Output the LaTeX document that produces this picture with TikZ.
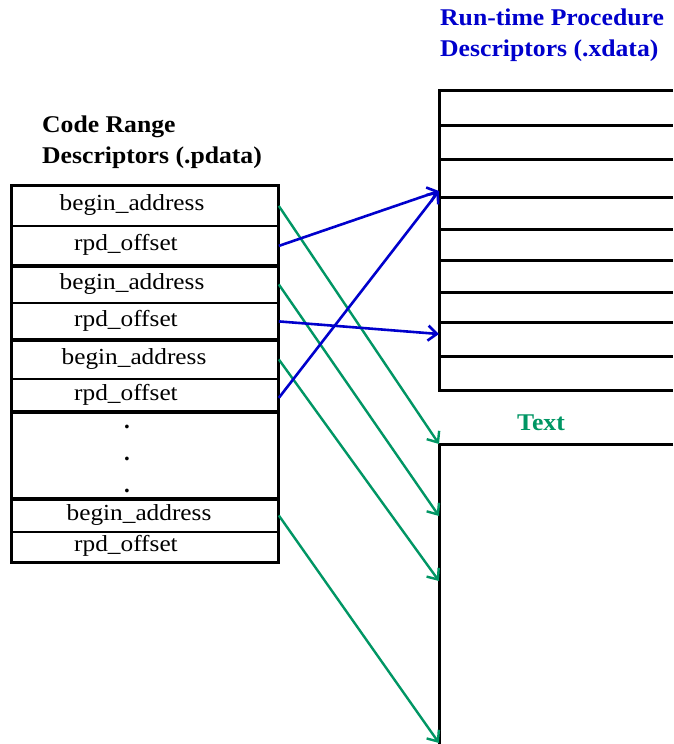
\documentclass[tikz,border=0pt]{standalone}
\usepackage{fontspec}
\usepackage{graphicx}
\setmainfont{Liberation Serif}
\usetikzlibrary{arrows.meta}
\definecolor{rpdblue}{RGB}{0,0,204}
\definecolor{txtgreen}{RGB}{0,150,100}
\newcommand\hwide[1]{\scalebox{1.1}[1]{#1}}
\newcommand\twide[1]{\scalebox{1.07}[1]{#1}}
\begin{document}
\begin{tikzpicture}[x=1pt,y=-1pt,
  rowbox/.style={draw=black,line width=1.8pt,minimum width=266pt,inner sep=0pt,anchor=north west},
  groupline/.style={draw=black,line width=3pt},
  tabline/.style={draw=black,line width=3pt},
  lbl/.style={font=\fontsize{23}{26}\selectfont,inner sep=0pt},
  ttl/.style={font=\fontsize{24}{28}\selectfont\bfseries,inner sep=0pt,anchor=base west},
  bluearr/.style={draw=rpdblue,line width=2.6pt,-{Straight Barb[length=9pt,width=15pt]}},
  greenarr/.style={draw=txtgreen,line width=2.4pt,-{Straight Barb[length=9pt,width=15pt]}}]
\useasboundingbox[fill=white] (0,0) rectangle (673,744);

% titles
\node[ttl] (crd1) at (42,132) {\twide{Code Range}};
\node[ttl] (crd2) at (42,163) {\twide{Descriptors (.pdata)}};
\node[ttl,text=rpdblue] (rpd1) at (440,25) {\twide{Run-time Procedure}};
\node[ttl,text=rpdblue] (rpd2) at (440,56) {\twide{Descriptors (.xdata)}};
\node[ttl,text=txtgreen,anchor=base] (txt) at (541,430) {\twide{Text}};

% left table rows
\node[rowbox,minimum height=40pt] (b1) at (11,185) {};
\node[rowbox,minimum height=40pt] (r1) at (11,225) {};
\node[rowbox,minimum height=37pt] (b2) at (11,265) {};
\node[rowbox,minimum height=37pt] (r2) at (11,302) {};
\node[rowbox,minimum height=39pt] (b3) at (11,339) {};
\node[rowbox,minimum height=33pt] (r3) at (11,378) {};
\node[rowbox,minimum height=87pt] (dots) at (11,411) {};
\node[rowbox,minimum height=33pt] (b4) at (11,498) {};
\node[rowbox,minimum height=30pt] (r4) at (11,531) {};

\draw[groupline] (b1.north west) rectangle (r1.south east);
\draw[groupline] (b2.north west) rectangle (r2.south east);
\draw[groupline] (b3.north west) rectangle (r3.south east);
\draw[groupline] (dots.north west) rectangle (dots.south east);
\draw[groupline] (b4.north west) rectangle (r4.south east);

% labels
\node[lbl] (lb1) at (132,205) {\hwide{begin\_address}};
\node[lbl] (lr1) at (126,245) {\hwide{rpd\_offset}};
\node[lbl] (lb2) at (132,283.5) {\hwide{begin\_address}};
\node[lbl] (lr2) at (126,320.5) {\hwide{rpd\_offset}};
\node[lbl] (lb3) at (134,358.5) {\hwide{begin\_address}};
\node[lbl] (lr3) at (126,394.5) {\hwide{rpd\_offset}};
\node[lbl,anchor=base] (d1) at (127,428) {\textbf{.}};
\node[lbl,anchor=base] (d2) at (127,460) {\textbf{.}};
\node[lbl,anchor=base] (d3) at (127,492) {\textbf{.}};
\node[lbl] (lb4) at (139,514.5) {\hwide{begin\_address}};
\node[lbl] (lr4) at (126,546) {\hwide{rpd\_offset}};

% right: run-time procedure descriptors
\draw[tabline] (673,90) -- (439,90) -- (439,390) -- (673,390);
\foreach \yy in {125,159,197,229,260,292,322,356}
  \draw[tabline] (439,\yy) -- (673,\yy);

% right: text section
\draw[tabline] (673,444) -- (439,444) -- (439,744);

% arrow targets
\coordinate (xa) at (439,191);
\coordinate (xb) at (439,334);
\coordinate (ga) at (439,444);
\coordinate (gb) at (439,516);
\coordinate (gc) at (439,581);
\coordinate (gd) at (439,743);

% green arrows
\draw[greenarr] (b1.east) -- (ga);
\draw[greenarr] (b2.east) -- (gb);
\draw[greenarr] (b3.east) -- (gc);
\draw[greenarr] (b4.east) -- (gd);

% blue arrows
\draw[bluearr] (r1.east) -- (xa);
\draw[bluearr] (r2.east) -- (xb);
\draw[bluearr] ([yshift=-2.5pt]r3.east) -- (xa);
\end{tikzpicture}
\end{document}
